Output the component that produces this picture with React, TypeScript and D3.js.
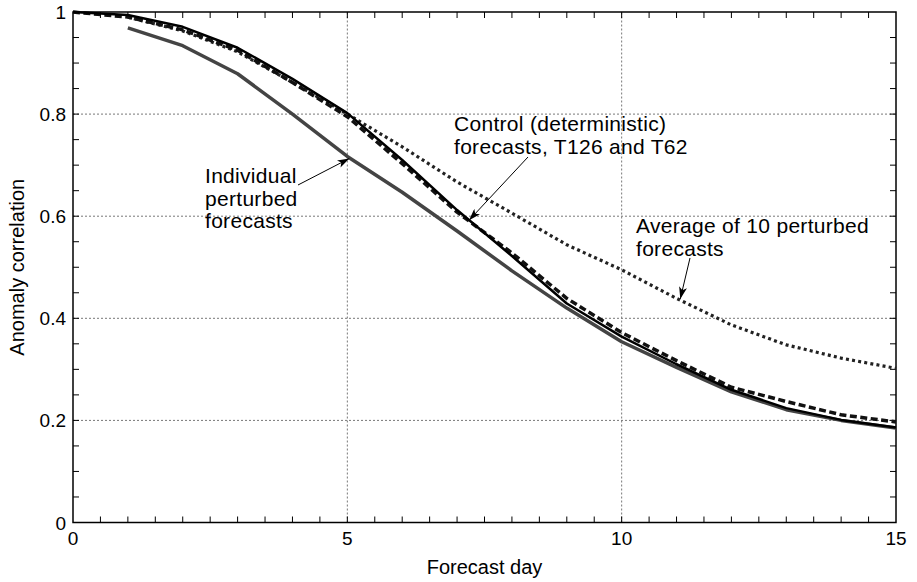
import React, { useRef, useEffect } from "react";
import * as d3 from "d3";

const days = [0, 1, 2, 3, 4, 5, 6, 7, 8, 9, 10, 11, 12, 13, 14, 15];

// control T126 (solid black)
const controlT126 = [1.0, 0.994, 0.971, 0.93, 0.869, 0.802, 0.71, 0.612, 0.522, 0.429, 0.364, 0.31, 0.26, 0.224, 0.201, 0.186];
// control T62 (dashed)
const controlT62 = [1.0, 0.99, 0.965, 0.925, 0.862, 0.795, 0.703, 0.608, 0.528, 0.439, 0.372, 0.317, 0.265, 0.237, 0.211, 0.197];
// individual perturbed (grey), starts day 1
const perturbedDays = [1, 2, 3, 4, 5, 6, 7, 8, 9, 10, 11, 12, 13, 14, 15];
const perturbed = [0.969, 0.934, 0.879, 0.8, 0.717, 0.647, 0.571, 0.493, 0.42, 0.354, 0.304, 0.256, 0.221, 0.2, 0.185];
// average of 10 perturbed (dotted)
const averageDays = [1, 2, 3, 4, 5, 6, 7, 8, 9, 10, 11, 12, 13, 14, 15];
const average = [0.99, 0.963, 0.922, 0.862, 0.8, 0.736, 0.667, 0.606, 0.544, 0.495, 0.439, 0.387, 0.348, 0.322, 0.302];

const xTickLabels = [0, 5, 10, 15];
const yTickLabels = [0, 0.2, 0.4, 0.6, 0.8, 1];

const W = 917;
const H = 582;
const margin = { left: 73, right: 21, top: 12, bottom: 59.5 };
const FONT = "'Liberation Sans', Arial, Helvetica, sans-serif";

export default function App() {
  const ref = useRef<SVGSVGElement>(null);

  useEffect(() => {
    const svg = d3.select(ref.current);
    svg.selectAll("*").remove();

    const x = d3.scaleLinear().domain([0, 15]).range([margin.left, W - margin.right]);
    const y = d3.scaleLinear().domain([0, 1]).range([H - margin.bottom, margin.top]);
    const [x0, x1] = x.range();
    const [y0, y1] = y.range();

    svg
      .append("defs")
      .append("marker")
      .attr("id", "arrow")
      .attr("viewBox", "0 0 12 8")
      .attr("refX", 12)
      .attr("refY", 4)
      .attr("markerWidth", 12)
      .attr("markerHeight", 8)
      .attr("markerUnits", "userSpaceOnUse")
      .attr("orient", "auto")
      .append("path")
      .attr("d", "M0,0 L12,4 L0,8 L3,4 Z")
      .attr("fill", "#000");

    // grid
    const grid = svg.append("g").attr("stroke", "#777").attr("stroke-width", 1).attr("stroke-dasharray", "2,2");
    [5, 10].forEach((d) => {
      grid.append("line").attr("x1", x(d)).attr("x2", x(d)).attr("y1", y0).attr("y2", y1);
    });
    [0.2, 0.4, 0.6, 0.8].forEach((d) => {
      grid.append("line").attr("x1", x0).attr("x2", x1).attr("y1", y(d)).attr("y2", y(d));
    });

    // ticks (inward, all four sides)
    const ticks = svg.append("g").attr("stroke", "#000").attr("stroke-width", 1);
    d3.range(0.5, 15, 0.5).forEach((d) => {
      ticks.append("line").attr("x1", x(d)).attr("x2", x(d)).attr("y1", y0).attr("y2", y0 - 6);
      ticks.append("line").attr("x1", x(d)).attr("x2", x(d)).attr("y1", y1).attr("y2", y1 + 6);
    });
    d3.range(0.05, 1, 0.05).forEach((d) => {
      ticks.append("line").attr("x1", x0).attr("x2", x0 + 6).attr("y1", y(d)).attr("y2", y(d));
      ticks.append("line").attr("x1", x1).attr("x2", x1 - 6).attr("y1", y(d)).attr("y2", y(d));
    });

    // frame
    svg
      .append("rect")
      .attr("x", x0)
      .attr("y", y1)
      .attr("width", x1 - x0)
      .attr("height", y0 - y1)
      .attr("fill", "none")
      .attr("stroke", "#000")
      .attr("stroke-width", 1.5);

    const line = d3
      .line<[number, number]>()
      .x((d) => x(d[0]))
      .y((d) => y(d[1]));

    const draw = (xs: number[], ys: number[], color: string, width: number, dash: string | null) => {
      svg
        .append("path")
        .datum(xs.map((d, i) => [d, ys[i]] as [number, number]))
        .attr("d", line)
        .attr("fill", "none")
        .attr("stroke", color)
        .attr("stroke-width", width)
        .attr("stroke-dasharray", dash)
        .attr("stroke-linejoin", "round");
    };

    draw(perturbedDays, perturbed, "#444", 3.5, null);
    draw(averageDays, average, "#222", 3.2, "3,3.2");
    draw(days, controlT62, "#111", 3.5, "7,3.5");
    draw(days, controlT126, "#000", 2.5, null);

    // tick labels
    const labels = svg.append("g").attr("font-family", FONT).attr("font-size", 19).attr("fill", "#000");
    xTickLabels.forEach((d) => {
      labels.append("text").attr("x", x(d)).attr("y", y0 + 22).attr("text-anchor", "middle").text(d);
    });
    yTickLabels.forEach((d) => {
      labels
        .append("text")
        .attr("x", x0 - 7)
        .attr("y", y(d) + 7)
        .attr("text-anchor", "end")
        .text(d === 0 || d === 1 ? String(d) : d.toFixed(1));
    });

    // axis titles
    svg
      .append("text")
      .attr("x", (x0 + x1) / 2)
      .attr("y", 574)
      .attr("text-anchor", "middle")
      .attr("font-family", FONT)
      .attr("font-size", 20)
      .text("Forecast day");
    svg
      .append("text")
      .attr("transform", `translate(24, ${(y0 + y1) / 2}) rotate(-90)`)
      .attr("text-anchor", "middle")
      .attr("font-family", FONT)
      .attr("font-size", 20)
      .text("Anomaly correlation");

    // annotations
    const note = (lines: string[], tx: number, ty: number) => {
      const t = svg
        .append("text")
        .attr("font-family", FONT)
        .attr("font-size", 21)
        .attr("letter-spacing", 0.3)
        .attr("fill", "#000");
      lines.forEach((s, i) => {
        t.append("tspan").attr("x", tx).attr("y", ty + i * 22.5).text(s);
      });
    };
    const arrow = (ax: number, ay: number, bx: number, by: number) => {
      svg
        .append("line")
        .attr("x1", ax)
        .attr("y1", ay)
        .attr("x2", bx)
        .attr("y2", by)
        .attr("stroke", "#000")
        .attr("stroke-width", 1)
        .attr("marker-end", "url(#arrow)");
    };

    note(["Individual", "perturbed", "forecasts"], 205, 183);
    arrow(298, 185, x(5) + 2, y(perturbed[4]) + 2);

    note(["Control (deterministic)", "forecasts, T126 and T62"], 454, 131);
    arrow(528, 157, x(7.2) + 1, y(0.594) + 1);

    note(["Average of 10 perturbed", "forecasts"], 636, 233);
    arrow(690, 258, x(11.05) + 1, y(0.436) - 1);
  }, []);

  return (
    <svg
      ref={ref}
      width={W}
      height={H}
      style={{ position: "absolute", left: 0, top: 0, background: "#fff" }}
    />
  );
}
